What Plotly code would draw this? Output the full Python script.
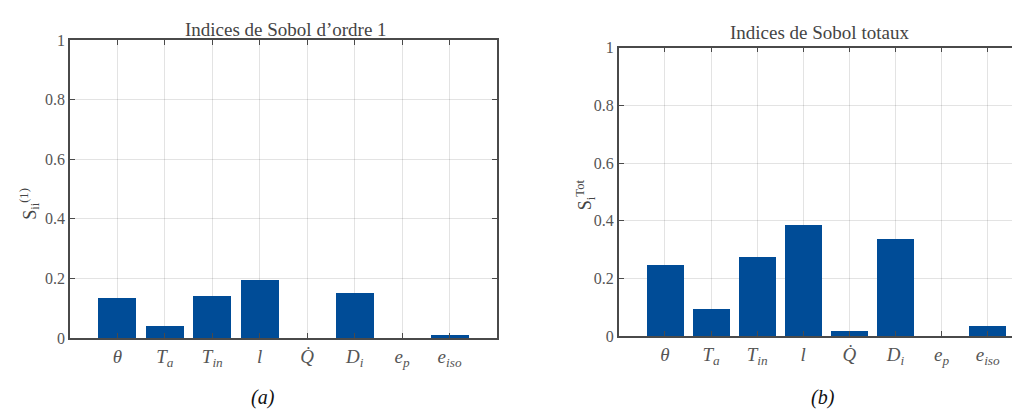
import plotly.graph_objects as go

categories = ["<i>θ</i>", "<i>T<sub>a</sub></i>", "<i>T<sub>in</sub></i>", "<i>l</i>",
              "<i>Q̇</i>", "<i>D<sub>i</sub></i>", "<i>e<sub>p</sub></i>", "<i>e<sub>iso</sub></i>"]
first_order = [0.136, 0.040, 0.141, 0.195, 0.0, 0.151, 0.0, 0.011]
total_order = [0.248, 0.096, 0.275, 0.386, 0.018, 0.338, 0.0, 0.038]
y_ticks = [0, 0.2, 0.4, 0.6, 0.8, 1]
y_ticklabels = ["0", "0.2", "0.4", "0.6", "0.8", "1"]
positions = list(range(1, len(categories) + 1))

W, H = 1020, 412
BAR = "#004c97"
AXC = "#4a4a4a"
GRID = "rgba(0,0,0,0.11)"
SERIF = "Liberation Serif"

fig = go.Figure()
fig.add_trace(go.Bar(x=positions, y=first_order, width=0.8, marker_color=BAR,
                     marker_line=dict(width=0), xaxis="x", yaxis="y",
                     showlegend=False))
fig.add_trace(go.Bar(x=positions, y=total_order, width=0.8, marker_color=BAR,
                     marker_line=dict(width=0), xaxis="x2", yaxis="y2",
                     showlegend=False))

def xax(domain, rng):
    return dict(domain=domain, range=rng, tickvals=positions, ticktext=categories,
                showgrid=True, gridcolor=GRID, gridwidth=1, zeroline=False,
                showline=True, linecolor=AXC, linewidth=1.5, mirror="ticks",
                ticks="inside", ticklen=5, tickcolor=AXC, tickwidth=1,
                tickfont=dict(family=SERIF, size=19, color="#555555"))

def yax(domain, anchor):
    return dict(domain=domain, range=[0, 1], tickvals=y_ticks, ticktext=y_ticklabels,
                anchor=anchor, showgrid=True, gridcolor=GRID, gridwidth=1, zeroline=False,
                showline=True, linecolor=AXC, linewidth=1.5, mirror="ticks",
                ticks="inside", ticklen=5, tickcolor=AXC, tickwidth=1,
                tickfont=dict(family=SERIF, size=16, color="#555555"))

x1 = [62 / W, 490 / W]
x2 = [612 / W, 1.0]
y1 = [(H - 336) / H, (H - 25) / H]
y2 = [(H - 334) / H, (H - 33) / H]
spacing2 = 46.2
fig.update_layout(
    width=W, height=H, margin=dict(l=0, r=0, t=0, b=0),
    paper_bgcolor="white", plot_bgcolor="white", bargap=0,
    xaxis=dict(**xax(x1, [0, 9]), anchor="y"),
    yaxis=yax(y1, "x"),
    xaxis2=dict(**xax(x2, [0, (W - 612) / spacing2]), anchor="y2"),
    yaxis2=yax(y2, "x2"),
)

ann = [
    dict(text="Indices de Sobol d’ordre 1", x=279 / W, y=1 - 14 / H, font=dict(size=19, color="#444444")),
    dict(text="Indices de Sobol totaux", x=813 / W, y=1 - 17 / H, font=dict(size=19, color="#444444")),
    dict(text="<i>(a)</i>", x=256 / W, y=1 - 398 / H, font=dict(size=20, color="#111111")),
    dict(text="<i>(b)</i>", x=817 / W, y=1 - 398 / H, font=dict(size=20, color="#111111")),
    dict(text="S<sub>ii</sub><sup>(1)</sup>", x=22 / W, y=1 - 196 / H, textangle=-90,
         font=dict(size=18, color="#444444")),
    dict(text="S<sub>i</sub><sup>Tot</sup>", x=578 / W, y=1 - 186 / H, textangle=-90,
         font=dict(size=18, color="#444444")),
]
for a in ann:
    a["font"]["family"] = SERIF
    fig.add_annotation(xref="paper", yref="paper", showarrow=False,
                       xanchor="center", yanchor="middle", **a)

fig.write_html("out.html")
